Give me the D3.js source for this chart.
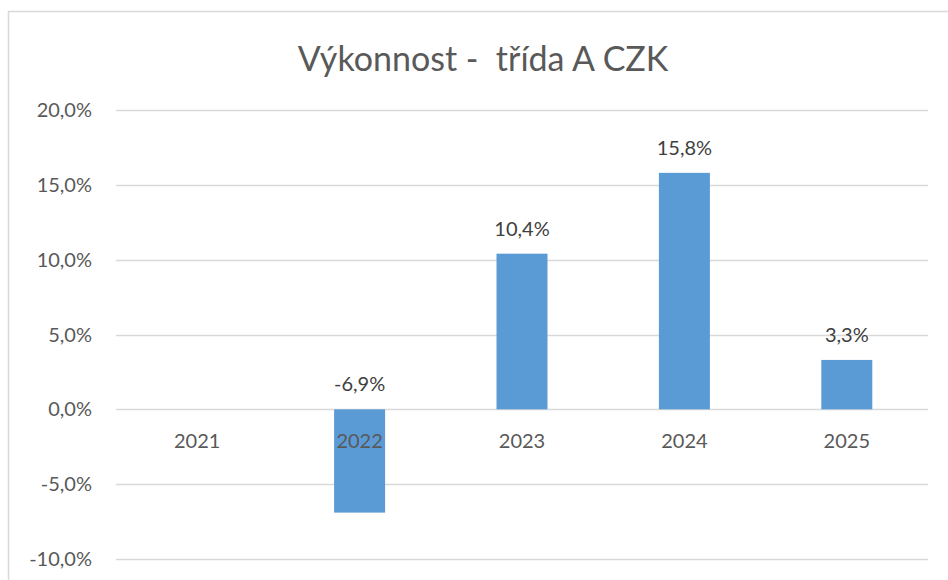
<!DOCTYPE html>
<html><head><meta charset="utf-8">
<script src="https://cdn.jsdelivr.net/npm/d3@7"></script>
<style>body{margin:0;background:#fff;}svg{display:block;}</style>
</head><body>
<svg id="c" width="948" height="580"></svg>
<script>
const categories = ["2021","2022","2023","2024","2025"];
const values = [null, -6.9, 10.4, 15.8, 3.3];
const yTicks = [-10, -5, 0, 5, 10, 15, 20];
const title = "Výkonnost -  třída A CZK";

const svg = d3.select("#c");
const font = "Lato, 'Open Sans', sans-serif";
svg.append("rect").attr("x",8.5).attr("y",11.5).attr("width",960).attr("height",600)
  .attr("fill","#fff").attr("stroke","#d9d9d9").attr("stroke-width",1.5);

const x = d3.scaleBand().domain(categories).range([116, 928]).paddingInner(0.686).paddingOuter(0.343);
const y = d3.scaleLinear().domain([-10, 20]).range([559, 110]);
const fmt = v => d3.format(".1f")(v).replace("\u2212", "-").replace(".", ",") + "%";

svg.append("g").selectAll("line").data(yTicks).join("line")
  .attr("x1",116).attr("x2",928).attr("y1",d=>Math.round(y(d))+0.5).attr("y2",d=>Math.round(y(d))+0.5)
  .attr("stroke","#d9d9d9").attr("stroke-width",1.5);

svg.append("g").selectAll("text").data(yTicks).join("text")
  .attr("x",92).attr("y",d=>y(d)).attr("dy","0.35em").attr("text-anchor","end")
  .attr("font-family",font).attr("font-size",20).attr("fill","#595959").text(d=>fmt(d));

const data = categories.map((c,i)=>({c, v: values[i]}));
svg.append("g").selectAll("rect").data(data.filter(d=>d.v!=null)).join("rect")
  .attr("x",d=>x(d.c)).attr("width",x.bandwidth())
  .attr("y",d=>y(Math.max(0,d.v))).attr("height",d=>Math.abs(y(d.v)-y(0)))
  .attr("fill","#5b9bd5");

svg.append("g").selectAll("text").data(categories).join("text")
  .attr("x",d=>x(d)+x.bandwidth()/2).attr("y",441).attr("dy","0.35em").attr("text-anchor","middle")
  .attr("font-family",font).attr("font-size",20).attr("fill","#595959").text(d=>d);

svg.append("g").selectAll("text").data(data.filter(d=>d.v!=null)).join("text")
  .attr("x",d=>x(d.c)+x.bandwidth()/2).attr("y",d=>y(Math.max(0,d.v))-25).attr("dy","0.35em").attr("text-anchor","middle")
  .attr("font-family",font).attr("font-size",20).attr("fill","#404040").text(d=>fmt(d.v));

svg.append("text").attr("x",483).attr("y",59).attr("dy","0.35em").attr("text-anchor","middle")
  .attr("font-family",font).attr("font-size",34).attr("fill","#595959")
  .style("white-space","pre").text(title);
</script>
</body></html>
